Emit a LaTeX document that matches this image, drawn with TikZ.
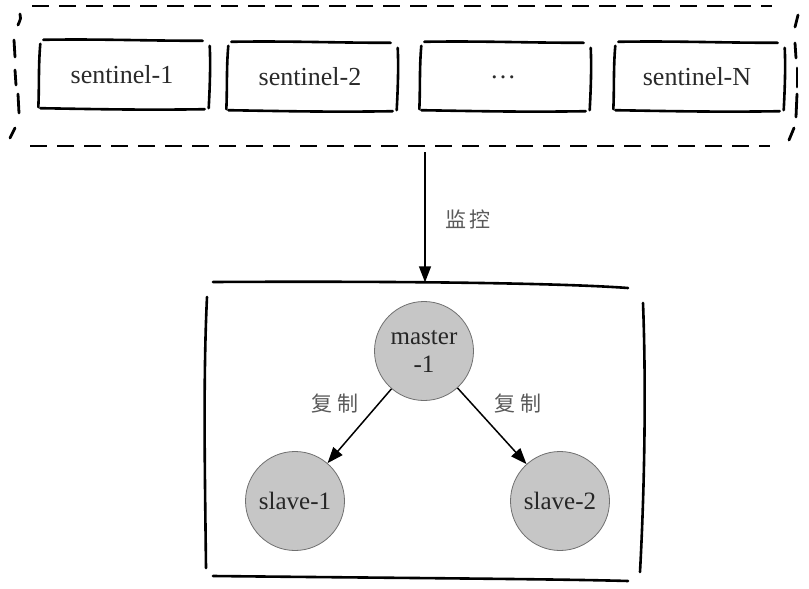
\documentclass[tikz,border=0pt]{standalone}
\usepackage{fontspec}
\setmainfont{Liberation Serif}
\newfontfamily\cjk{Noto Sans CJK SC}
\usetikzlibrary{arrows.meta}
\definecolor{txt}{HTML}{2A2A2A}
\definecolor{lbl}{HTML}{5A5A5A}
\definecolor{nodefill}{HTML}{C6C6C6}
\definecolor{nodeline}{HTML}{707070}
\tikzset{
  sk/.style={line width=2.6pt, line cap=round, black},
  dsh/.style={line width=2.8pt, dash pattern=on 17pt off 10pt, black},
  sentinelbox/.style={minimum width=165pt, minimum height=68pt, inner sep=0pt,
     font=\fontsize{26}{30}\selectfont, text=txt},
  circnode/.style={circle, minimum size=99pt, inner sep=0pt, fill=nodefill,
     draw=nodeline, line width=0.8pt, font=\fontsize{25}{28}\selectfont,
     text=black!85, align=center},
  cjklabel/.style={font=\cjk\fontsize{21}{24}\selectfont, text=lbl},
  arr/.style={line width=1.5pt, -{Triangle[length=16pt,width=12pt]}},
  region/.style={minimum width=430pt, minimum height=295pt, inner sep=0pt}
}
\newcommand\skbox[1]{%
  \draw[sk] ([xshift=4pt,yshift=1pt]#1.north west) .. controls ([xshift=60pt,yshift=2pt]#1.north west) and ([xshift=-60pt]#1.north east) .. ([xshift=-2pt]#1.north east);
  \draw[sk] ([xshift=1pt,yshift=-3pt]#1.north west) .. controls ([xshift=-1pt,yshift=-25pt]#1.north west) and ([xshift=0pt,yshift=20pt]#1.south west) .. ([xshift=-1pt,yshift=2pt]#1.south west);
  \draw[sk] ([xshift=1pt,yshift=1pt]#1.south west) .. controls ([xshift=60pt]#1.south west) and ([xshift=-60pt,yshift=-1pt]#1.south east) .. ([xshift=0pt,yshift=0pt]#1.south east);
  \draw[sk] ([xshift=5pt,yshift=-5pt]#1.north east) .. controls ([xshift=6pt,yshift=-25pt]#1.north east) and ([xshift=5pt,yshift=20pt]#1.south east) .. ([xshift=4pt,yshift=1pt]#1.south east);
}
\begin{document}
\begin{tikzpicture}[x=1pt,y=-1pt]
\useasboundingbox (0,0) rectangle (809,589);
\fill[white] (0,0) rectangle (809,589);

% sentinel group (dashed)
\node[minimum width=780pt, minimum height=140pt, inner sep=0pt] (grp) at (405,75) {};
\draw[dsh] (32,6) -- (772,6);
\draw[dsh] (30,146) -- (770,146);
\draw[sk, line width=2.8pt] (20,14) .. controls (21,18) .. (18,25);
\draw[sk, line width=2.8pt] (14,40) -- (15,57);
\draw[sk, line width=2.8pt] (15,70) -- (16,85);
\draw[sk, line width=2.8pt] (18,94) -- (19,113);
\draw[sk, line width=2.8pt] (15,128) -- (10,138);
\draw[sk, line width=2.8pt] (798,15) -- (795,27);
\draw[sk, line width=2.8pt] (795,43) -- (796,58);
\draw[sk, line width=2.8pt] (797,68) -- (797,87);
\draw[sk, line width=2.8pt] (797,94) -- (796,117);
\draw[sk, line width=2.8pt] (794,128) -- (789,140);

\node[sentinelbox] (s1) at (122,75) {sentinel-1};
\node[sentinelbox] (s2) at (310,77) {sentinel-2};
\node[sentinelbox] (s3) at (503,77) {\dots};
\node[sentinelbox] (s4) at (697,77) {sentinel-N};
\skbox{s1}\skbox{s2}\skbox{s3}\skbox{s4}

% monitored region
\node[region] (cl) at (425,430) {};
\draw[sk] (213,282) .. controls (400,281) and (560,283) .. (628,288);
\draw[sk] (213,576) .. controls (400,578) and (560,579) .. (628,581);
\draw[sk] (207,297) .. controls (203,380) and (205,480) .. (206,568);
\draw[sk] (643,303) .. controls (646,380) and (645,480) .. (640,572);

\coordinate (a0) at (425,152);
\draw[arr] (a0) -- (cl.north);
\node[cjklabel] (mon) at (468,219) {监\hspace{4pt}控};

\node[circnode] (m) at (424,351) {master\\-1};
\node[circnode] (sl1) at (295,501) {slave-1};
\node[circnode] (sl2) at (560,501) {slave-2};

\draw[arr] (m) -- (sl1);
\draw[arr] (m) -- (sl2);
\node[cjklabel] (lab1) at (335,404) {复\hspace{5pt}制};
\node[cjklabel] (lab2) at (518,404) {复\hspace{5pt}制};
\end{tikzpicture}
\end{document}
